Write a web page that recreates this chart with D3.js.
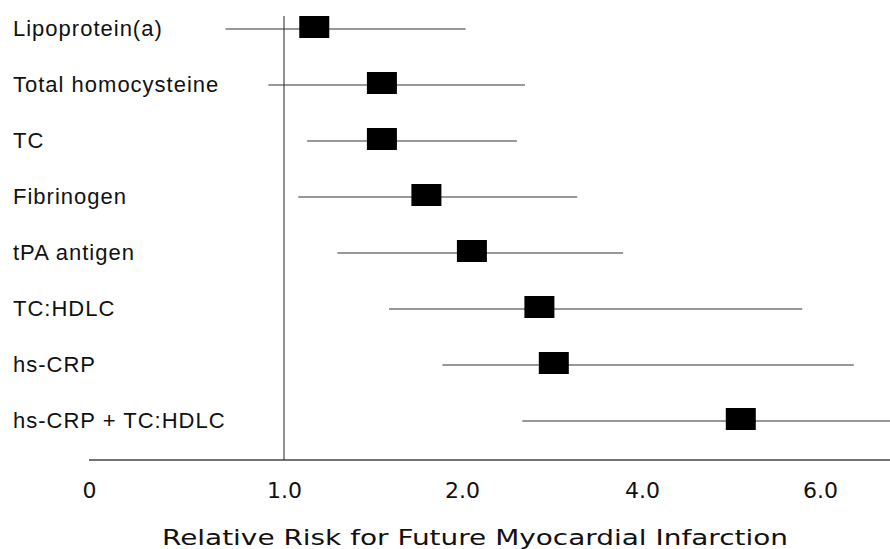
<!DOCTYPE html>
<html>
<head>
<meta charset="utf-8">
<script src="https://cdn.jsdelivr.net/npm/d3@7"></script>
<style>
  html, body { margin: 0; padding: 0; background: #fff; }
  svg { display: block; }
</style>
</head>
<body>
<svg id="chart" width="890" height="549"></svg>
<script>
const categories = ["Lipoprotein(a)", "Total homocysteine", "TC", "Fibrinogen", "tPA antigen", "TC:HDLC", "hs-CRP", "hs-CRP + TC:HDLC"];
const relativeRisk = [1.17, 1.55, 1.55, 1.80, 2.11, 2.86, 3.02, 5.11];
const ciLower = [0.70, 0.92, 1.13, 1.08, 1.30, 1.59, 1.89, 2.67];
const ciUpper = [2.04, 2.70, 2.61, 3.28, 3.79, 5.80, 6.38, 6.90];
const tickValues = [0, 1, 2, 4, 6];
const tickLabels = ["0", "1.0", "2.0", "4.0", "6.0"];
const axisTitle = "Relative Risk for Future Myocardial Infarction";

const svg = d3.select("#chart");

// Piecewise scale as in the original figure
const x = d3.scaleLinear().domain(tickValues).range([89, 284, 462, 642, 820]);
const y = d3.scalePoint().domain(categories).range([27, 419]);

const axisY = 460;

// axis line + labels
const axis = d3.axisBottom(x).tickValues(tickValues)
  .tickFormat((d, i) => tickLabels[i]).tickSize(0).tickPadding(22);
const gAxis = svg.append("g").attr("transform", `translate(0,${axisY})`).call(axis);
gAxis.select(".domain").remove();
gAxis.selectAll("text")
  .attr("font-family", "DejaVu Sans, sans-serif")
  .attr("font-size", 22)
  .attr("fill", "#111");
svg.append("line")
  .attr("x1", x(0)).attr("x2", 890)
  .attr("y1", axisY).attr("y2", axisY)
  .attr("stroke", "#444").attr("stroke-width", 1.6);

// reference line at 1.0
svg.append("line")
  .attr("x1", x(1)).attr("x2", x(1))
  .attr("y1", 16).attr("y2", axisY)
  .attr("stroke", "#222").attr("stroke-width", 1);

// row labels
svg.selectAll("text.cat").data(categories).join("text")
  .attr("class", "cat")
  .attr("x", 13)
  .attr("y", d => y(d) + 9)
  .attr("font-family", "Liberation Sans, Arial, sans-serif")
  .attr("font-size", 22)
  .attr("letter-spacing", 1)
  .attr("fill", "#111")
  .text(d => d);

// CI lines
svg.selectAll("line.ci").data(categories).join("line")
  .attr("class", "ci")
  .attr("x1", (d, i) => x(ciLower[i]))
  .attr("x2", (d, i) => x(ciUpper[i]))
  .attr("y1", d => y(d) + 2).attr("y2", d => y(d) + 2)
  .attr("stroke", "#333").attr("stroke-width", 1.2);

// squares
const w = 30, h = 22;
svg.selectAll("rect.pt").data(categories).join("rect")
  .attr("class", "pt")
  .attr("x", (d, i) => x(relativeRisk[i]) - w / 2)
  .attr("y", d => y(d) - h / 2)
  .attr("width", w).attr("height", h)
  .attr("fill", "#000");

// axis title
svg.append("text")
  .attr("x", 475).attr("y", 545)
  .attr("text-anchor", "middle")
  .attr("font-family", "DejaVu Sans, sans-serif")
  .attr("font-size", 22)
  .attr("fill", "#111")
  .attr("textLength", 626)
  .attr("lengthAdjust", "spacingAndGlyphs")
  .text(axisTitle);
</script>
</body>
</html>
